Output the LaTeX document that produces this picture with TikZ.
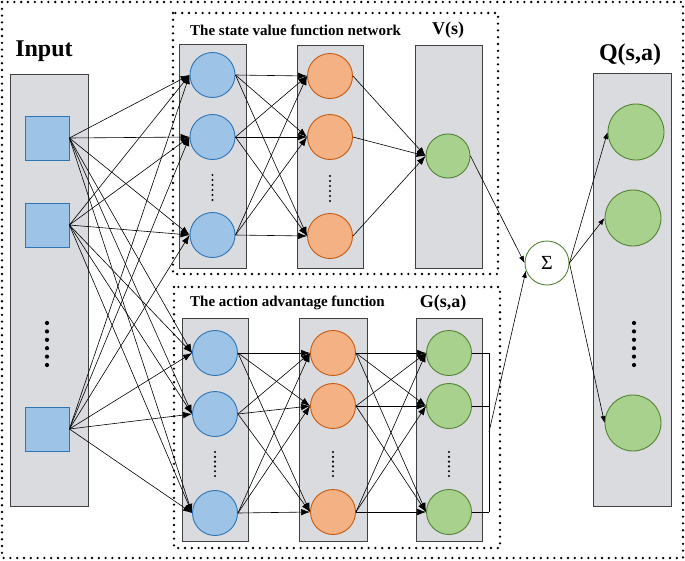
\documentclass[tikz,border=0pt]{standalone}
\usepackage{fontspec}
\setmainfont{Liberation Serif}
\usetikzlibrary{arrows.meta}

\definecolor{boxgray}{HTML}{DADBDE}
\definecolor{bluefill}{HTML}{9DC3E6}
\definecolor{blueline}{HTML}{2E75B6}
\definecolor{orangefill}{HTML}{F4B183}
\definecolor{orangeline}{HTML}{C55A11}
\definecolor{greenfill}{HTML}{A9D18E}
\definecolor{greenline}{HTML}{548235}

\tikzset{
	layer/.style={draw=black!75, fill=boxgray, line width=0.9pt, inner sep=0pt},
	inbox/.style={rectangle, draw=blueline, fill=bluefill, line width=0.8pt, minimum size=44pt, inner sep=0pt},
	neuron/.style={circle, line width=0.9pt, minimum size=45pt, inner sep=0pt},
	blueN/.style={neuron, draw=blueline, fill=bluefill},
	orangeN/.style={neuron, draw=orangeline, fill=orangefill},
	greenN/.style={neuron, draw=greenline, fill=greenfill},
	dotframe/.style={line width=2.6pt, line cap=round, dash pattern=on 0pt off 6.8pt},
	conn/.style={line width=0.6pt, -{Latex[length=9pt, width=6.5pt]}},
	thinconn/.style={line width=0.6pt, -{Latex[length=7pt, width=5pt]}},
	title/.style={font=\fontsize{15}{17}\selectfont\bfseries, anchor=west, inner sep=0pt},
	head/.style={font=\fontsize{18}{20}\selectfont\bfseries, inner sep=0pt},
	bighead/.style={font=\fontsize{24}{26}\selectfont\bfseries, inner sep=0pt}
}

\begin{document}
\begin{tikzpicture}[x=1pt, y=-1pt]
		\useasboundingbox (0, 0) rectangle (685, 560);

		% outer and inner dotted frames
		\draw[dotframe] (2, 2) rectangle (683, 558);
		\draw[dotframe] (173, 13) rectangle (498, 274);
		\draw[dotframe] (174, 287) rectangle (500, 548);

		% gray layers
		\node[layer, minimum width=78pt, minimum height=432pt] (inl) at (49, 290) {};
		\node[layer, minimum width=67pt, minimum height=224pt] (al) at (212.5, 156) {};
		\node[layer, minimum width=66pt, minimum height=223pt] (bl) at (330, 156.5) {};
		\node[layer, minimum width=67pt, minimum height=223pt] (vl) at (448.5, 156.5) {};
		\node[layer, minimum width=66pt, minimum height=223pt] (cl) at (215, 429.5) {};
		\node[layer, minimum width=68pt, minimum height=223pt] (dl) at (333, 429.5) {};
		\node[layer, minimum width=66pt, minimum height=223pt] (gl) at (449, 429.5) {};
		\node[layer, minimum width=78pt, minimum height=433pt] (ql) at (632, 289.5) {};

		% labels
		\node[bighead] (inlab) at (44, 51) {Input};
		\node[title] (tv) at (190, 30) {The state value function network};
		\node[head] (vlab) at (448, 30) {V(s)};
		\node[title] (ta) at (190, 303) {The action advantage function};
		\node[head] (glab) at (443, 303) {G(s,a)};
		\node[bighead] (qlab) at (630, 55) {Q(s,a)};

		% input units
		\node[inbox] (in1) at (47, 138) {};
		\node[inbox] (in2) at (47, 225) {};
		\node[inbox] (in3) at (47, 429) {};

		% state value network
		\node[blueN] (a1) at (212.5, 75) {};
		\node[blueN] (a2) at (212.5, 137) {};
		\node[blueN] (a3) at (212.5, 235) {};
		\node[orangeN] (b1) at (330, 76) {};
		\node[orangeN] (b2) at (330, 137) {};
		\node[orangeN] (b3) at (330, 236) {};
		\node[greenN, minimum size=44pt] (v) at (448, 156) {};

		% advantage network
		\node[blueN] (c1) at (215, 353) {};
		\node[blueN] (c2) at (215, 414) {};
		\node[blueN] (c3) at (215, 513) {};
		\node[orangeN] (d1) at (333, 353) {};
		\node[orangeN] (d2) at (333, 406) {};
		\node[orangeN] (d3) at (333, 512) {};
		\node[greenN] (g1) at (449, 353) {};
		\node[greenN] (g2) at (449, 406) {};
		\node[greenN] (g3) at (449, 512) {};

		% sum and output
		\node[neuron, draw=greenline, fill=white, minimum size=44pt, font=\fontsize{20}{22}\selectfont] (sg) at (547, 263) {Σ};
		\node[greenN, minimum size=56pt] (q1) at (636, 132) {};
		\node[greenN, minimum size=56pt] (q2) at (633, 218) {};
		\node[greenN, minimum size=56pt] (q3) at (633, 423) {};

		% dots
		\foreach \k in {0,...,5} {
			\fill (47, 323 + 8.4*\k) circle (2.1pt);
			\fill (634, 323 + 8.4*\k) circle (2.1pt);
			\fill (212.5, 175 + 5*\k) circle (1.2pt);
			\fill (330, 176 + 5*\k) circle (1.2pt);
			\fill (215, 452 + 4.8*\k) circle (1.2pt);
			\fill (333, 452 + 4.8*\k) circle (1.2pt);
			\fill (449, 452 + 4.8*\k) circle (1.2pt);
		}

		% connections
		\foreach \i in {1,2,3} {
			\foreach \j in {1,2,3} {
				\draw[conn] (in\i.east) -- (a\j.west);
				\draw[conn] (in\i.east) -- (c\j.west);
				\draw[conn] (a\i.east) -- (b\j.west);
				\draw[conn] (c\i.east) -- (d\j.west);
				\draw[conn] (d\i.east) -- (g\j.west);
			}
			\draw[conn] (b\i.east) -- (v.west);
		}

		% join of the advantage outputs
		\coordinate (gr1) at (489, 353);
		\coordinate (gr2) at (489, 406);
		\coordinate (gr3) at (489, 512);
		\coordinate (gj) at (489, 432);
		\foreach \i in {1,2,3} {
			\draw[line width=0.6pt] (g\i.east) -- (gr\i);
		}
		\draw[line width=0.6pt] (gr1) -- (gr3);

		\draw[thinconn] (v.east) -- (sg.west);
		\draw[thinconn] (gj) -- (sg.200);
		\draw[thinconn] (sg.east) -- (q1.west);
		\draw[thinconn] (sg.east) -- (q2.west);
		\draw[thinconn] (sg.east) -- (q3.west);
	\end{tikzpicture}
\end{document}
